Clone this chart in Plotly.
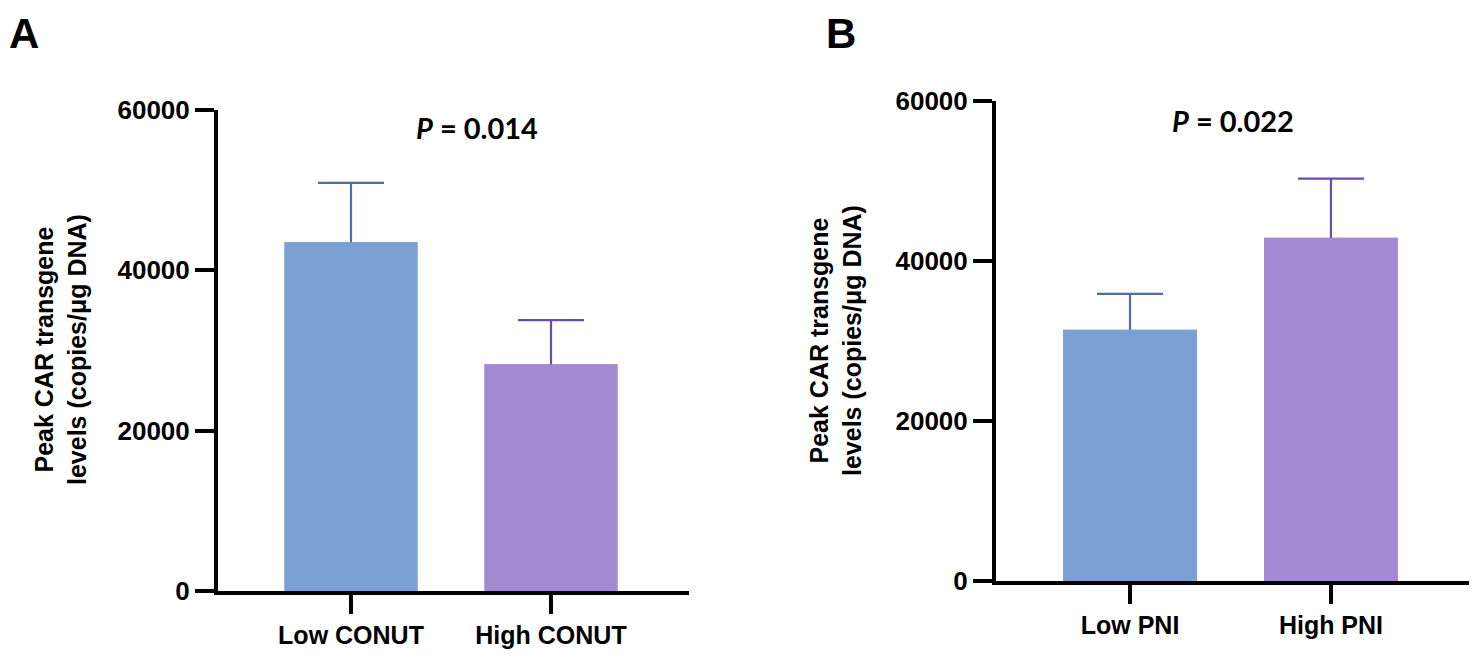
"""Peak CAR transgene levels by nutritional score group (panels A and B)."""

import plotly.graph_objects as go

# ── Data ────────────────────────────────────────────────────────────
conut_groups = ["Low CONUT", "High CONUT"]
conut_means = [43500, 28300]
conut_err = [7400, 5500]

pni_groups = ["Low PNI", "High PNI"]
pni_means = [31400, 42900]
pni_err = [4500, 7400]

bar_colors = ["#7ba0d4", "#a48ad2"]
err_colors = ["#4d6ca8", "#6a4cac"]

y_ticks = [0, 20000, 40000, 60000]
p_values = ["0.014", "0.022"]
panel_letters = ["A", "B"]
y_title = "Peak CAR transgene<br>levels (copies/μg DNA)"

# page body has an 8px margin, so the figure sits inside it
PAGE_W, PAGE_H, BODY = 1477, 659, 8
W, H = PAGE_W - 2 * BODY, PAGE_H - 2 * BODY
FONT = "Liberation Sans, Arial, sans-serif"


def px_x(p):
    """Page pixel -> paper x."""
    return (p - BODY) / W


def px_y(p):
    """Page pixel -> paper y."""
    return 1 - (p - BODY) / H


fig = go.Figure()


def add_panel(groups, means, errs, xa, ya):
    """Bars with upper-only error bars (a top bar layer hides the lower half)."""
    idx = list(range(len(groups)))
    for i in idx:
        fig.add_trace(
            go.Bar(
                x=[i], y=[means[i]], width=0.665,
                marker=dict(color=bar_colors[i], line=dict(width=0)),
                error_y=dict(
                    type="data", array=[errs[i]], symmetric=True,
                    color=err_colors[i], thickness=2.2, width=33,
                ),
                xaxis=xa, yaxis=ya, showlegend=False, hoverinfo="skip",
            )
        )
    # top layer covers the lower half of each error bar
    fig.add_trace(
        go.Bar(
            x=idx, y=means, width=0.665,
            marker=dict(color=bar_colors, line=dict(width=0)),
            xaxis=xa, yaxis=ya, showlegend=False, hoverinfo="skip",
        )
    )


add_panel(conut_groups, conut_means, conut_err, "x", "y")
add_panel(pni_groups, pni_means, pni_err, "x2", "y2")

axis_common = dict(
    showline=True, linecolor="black", linewidth=4,
    ticks="outside", tickcolor="black", tickwidth=4, ticklen=19,
    showgrid=False, zeroline=False,
)
tick_font = dict(family=FONT, size=26, color="black", weight="bold")
cat_font = dict(family=FONT, size=25, color="black", weight="bold")

fig.update_layout(
    width=W, height=H,
    margin=dict(l=0, r=0, t=0, b=0, autoexpand=False),
    paper_bgcolor="white", plot_bgcolor="white",
    barmode="overlay",
    xaxis=dict(
        domain=[px_x(218), px_x(689)], range=[-0.665, 1.69],
        tickvals=[0, 1], ticktext=conut_groups, ticklabelstandoff=0,
        tickfont=cat_font, anchor="y", **axis_common,
    ),
    yaxis=dict(
        domain=[px_y(591), px_y(110)], range=[0, 60000],
        tickvals=y_ticks, ticktext=[str(v) for v in y_ticks],
        tickfont=tick_font, anchor="x", **axis_common,
    ),
    xaxis2=dict(
        domain=[px_x(996), px_x(1469)], range=[-0.667, 1.687],
        tickvals=[0, 1], ticktext=pni_groups, ticklabelstandoff=0,
        tickfont=cat_font, anchor="y2", **axis_common,
    ),
    yaxis2=dict(
        domain=[px_y(581), px_y(101)], range=[0, 60000],
        tickvals=y_ticks, ticktext=[str(v) for v in y_ticks],
        tickfont=tick_font, anchor="x2", **axis_common,
    ),
)

# ── Annotations ─────────────────────────────────────────────────────
for letter, cx in zip(panel_letters, [24, 841]):
    fig.add_annotation(
        text=letter, x=px_x(cx), y=1, xref="paper", yref="paper",
        showarrow=False, xanchor="center", yanchor="top",
        font=dict(family=FONT, size=42, color="black", weight="bold"),
    )

for pv, cx, cy in zip(p_values, [477, 1233], [127, 121]):
    fig.add_annotation(
        text=f"<i>P</i> = {pv}", x=px_x(cx), y=px_y(cy),
        xref="paper", yref="paper", showarrow=False,
        xanchor="center", yanchor="middle",
        font=dict(family="Lato, Open Sans, sans-serif", size=29,
                  color="black", weight="bold"),
    )

for cx, cy in [(60, 350), (835, 341)]:
    fig.add_annotation(
        text=y_title, x=px_x(cx), y=px_y(cy),
        xref="paper", yref="paper", showarrow=False, textangle=-90,
        xanchor="center", yanchor="middle",
        font=dict(family=FONT, size=25, color="black", weight="bold"),
    )

fig.write_html("out.html")
